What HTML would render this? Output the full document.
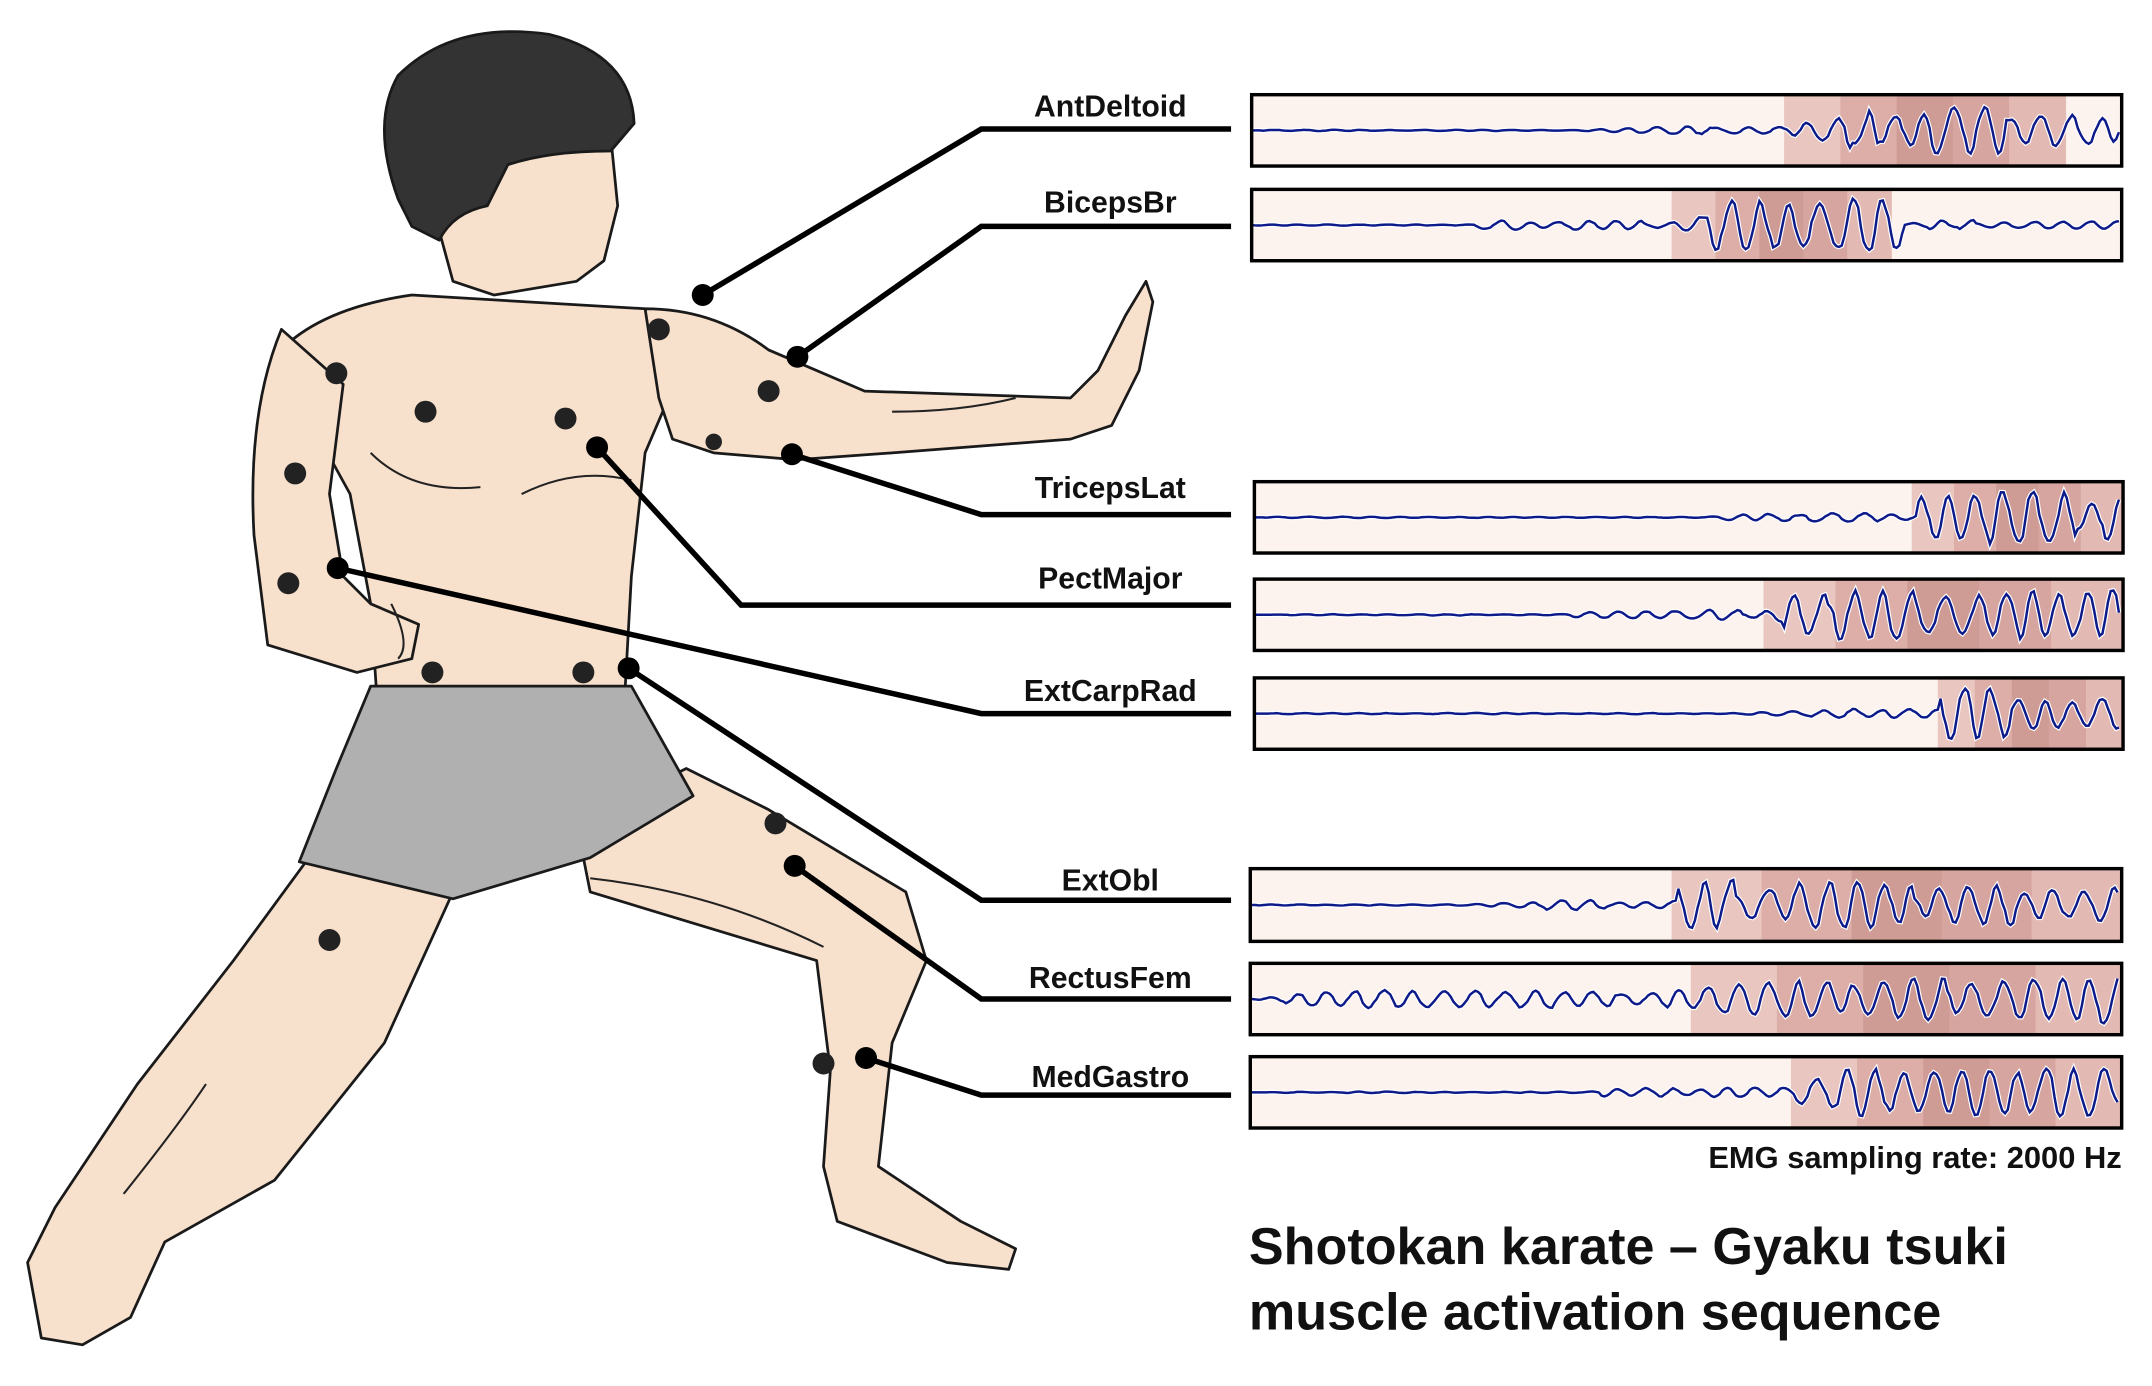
<!DOCTYPE html>
<html><head><meta charset="utf-8"><style>
html,body{margin:0;padding:0;background:#fff;width:2152px;height:1386px;overflow:hidden}
svg{display:block}
text{font-family:"Liberation Sans",Arial,sans-serif;font-weight:bold;fill:#111}
</style></head><body>
<svg id="s" width="2152" height="1386" viewBox="0 0 1568 1010" xmlns="http://www.w3.org/2000/svg">
<g stroke="#1a1a1a" stroke-width="2" stroke-linejoin="round">
<path d="M225 625 L330 650 L280 760 L200 860 L120 905 L95 960 L60 980 L30 975 L20 920 L40 880 L100 790 L170 700 Z" fill="#f7e0cc"/>
<path d="M420 600 L500 560 L560 590 L660 650 L675 700 L650 760 L640 850 L700 890 L740 910 L735 925 L690 920 L610 890 L600 850 L605 780 L595 700 L430 650 Z" fill="#f7e0cc"/>
<path d="M200 260 Q230 225 300 215 L470 225 Q500 235 500 260 L470 330 L460 420 L455 510 L275 515 L270 440 L255 360 Z" fill="#f7e0cc"/>
<path d="M205 240 Q180 300 185 390 L195 470 L260 490 L300 480 L305 455 L270 440 L250 420 L240 360 L250 280 Z" fill="#f7e0cc"/>
<path d="M470 225 Q520 225 560 255 L630 285 L780 290 L800 270 L820 230 L835 205 L840 220 L830 270 L810 310 L780 320 L650 330 L580 335 L520 330 L490 320 L480 290 Z" fill="#f7e0cc"/>
<path d="M315 150 L330 205 L360 215 L420 205 L440 190 L450 150 L445 100 L330 100 Z" fill="#f7e0cc"/>
<path d="M290 145 Q270 90 290 55 Q330 15 400 25 Q460 40 462 90 L445 110 Q400 110 370 120 L355 150 Q330 155 320 175 L300 165 Z" fill="#333"/>
<path d="M270 500 L460 500 L505 580 L430 625 L330 655 L218 628 L245 560 Z" fill="#b0b0b0"/>
</g>
<g fill="none" stroke="#222" stroke-width="1.5">
<path d="M270 330 Q300 360 350 355"/><path d="M380 360 Q420 340 460 350"/><path d="M650 300 Q700 300 740 290"/>
<path d="M90 870 Q130 820 150 790"/><path d="M430 640 Q520 650 600 690"/><path d="M285 440 Q300 470 290 480"/>
</g>
<g fill="#222">
<circle cx="245" cy="272" r="8"/><circle cx="310" cy="300" r="8"/><circle cx="412" cy="305" r="8"/><circle cx="480" cy="240" r="8"/>
<circle cx="560" cy="285" r="8"/><circle cx="215" cy="345" r="8"/><circle cx="210" cy="425" r="8"/><circle cx="315" cy="490" r="8"/>
<circle cx="425" cy="490" r="8"/><circle cx="240" cy="685" r="8"/><circle cx="565" cy="600" r="8"/><circle cx="600" cy="775" r="8"/><circle cx="520" cy="322" r="6"/>
</g>
<g stroke="#000" stroke-width="4" fill="none">
<polyline points="512,215 715,94 897,94"/>
<polyline points="581,260 715,165 897,165"/>
<polyline points="577,331 715,375 897,375"/>
<polyline points="435,326 540,441 897,441"/>
<polyline points="246,414 715,520 897,520"/>
<polyline points="458,487 715,656 897,656"/>
<polyline points="579,631 715,728 897,728"/>
<polyline points="631,771 715,798 897,798"/>
</g>
<g fill="#000">
<circle cx="512" cy="215" r="8"/><circle cx="581" cy="260" r="8"/><circle cx="577" cy="331" r="8"/><circle cx="435" cy="326" r="8"/>
<circle cx="246" cy="414" r="8"/><circle cx="458" cy="487" r="8"/><circle cx="579" cy="631" r="8"/><circle cx="631" cy="771" r="8"/>
</g>
<g font-size="22" text-anchor="middle">
<text x="809" y="85">AntDeltoid</text><text x="809" y="155">BicepsBr</text><text x="809" y="363">TricepsLat</text>
<text x="809" y="429">PectMajor</text><text x="809" y="511">ExtCarpRad</text><text x="809" y="649">ExtObl</text>
<text x="809" y="720">RectusFem</text><text x="809" y="792">MedGastro</text>
</g>
<g id="panels"></g>
<text x="1546" y="851" font-size="22.5" text-anchor="end">EMG sampling rate: 2000 Hz</text>
<text x="910" y="921" font-size="38">Shotokan karate – Gyaku tsuki</text>
<text x="910" y="969" font-size="38">muscle activation sequence</text>
</svg>
<script>
var P=[[912,1546,69,121,1300,1505,1.0],[912,1546,138,190,1218,1378,0.8],[914,1547,351,403,1393,1547,0.9],[914,1547,422,474,1285,1547,0.9],[914,1547,494,546,1412,1547,0.8],[911,1546,633,686,1218,1546,0.8],[911,1546,702,754,1232,1546,0.8],[911,1546,770,822,1305,1546,0.8]];
var g=document.getElementById('panels'),ns='http://www.w3.org/2000/svg',seed=7;
function r(){seed=(seed*9301+49297)%233280;return seed/233280;}
function el(t,a){var e=document.createElementNS(ns,t);for(var k in a)e.setAttribute(k,a[k]);g.appendChild(e);return e;}
P.forEach(function(p,i){
 var x0=p[0],x1=p[1],y0=p[2],y1=p[3],s0=p[4],s1=p[5],h=y1-y0,cy=(y0+y1)/2;
 el('rect',{x:x0,y:y0,width:x1-x0,height:h,fill:'#fcf3ef'});
 var w=(s1-s0),cols=['#e9c6bf','#dcaea7','#cf9b95','#d6a59f','#e3bab3'];
 for(var k=0;k<5;k++)el('rect',{x:s0+w*k/5,y:y0,width:w/5+0.5,height:h,fill:cols[k]});
 var d='M'+x0+' '+cy,ph=0,amp=0;
 for(var x=x0+2;x<=x1-2;x+=2){
  var tgt=(x>s0&&x<s1)?h*0.32:(i==6?h*0.12:(x>s0-150?h*0.06:h*0.008));
  if(r()<0.08)amp=tgt*(0.4+r()*0.8);
  amp+= (tgt-amp)*0.03;
  ph+=0.35+r()*0.5;
  d+=' L'+x+' '+(cy+Math.sin(ph)*amp).toFixed(1);}
 el('path',{d:d,fill:'none',stroke:'#fff',"stroke-width":3.5});
 el('path',{d:d,fill:'none',stroke:'#0d1a8a',"stroke-width":1.8});
 el('rect',{x:x0,y:y0,width:x1-x0,height:h,fill:'none',stroke:'#000',"stroke-width":2.5});
});
</script>
</body></html>
